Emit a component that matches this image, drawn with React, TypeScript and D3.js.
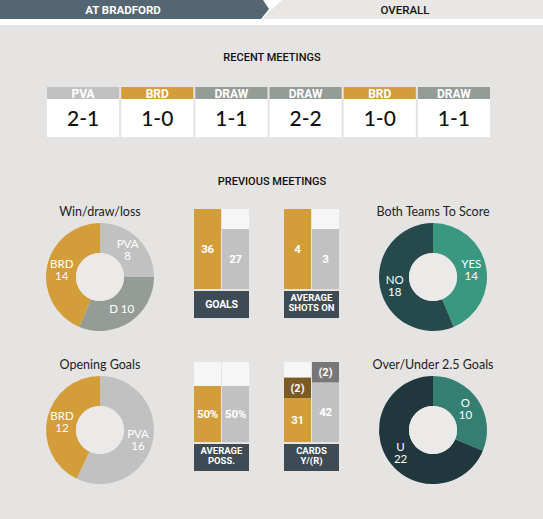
import React from "react";
import * as d3 from "d3";

// ---------- data ----------
const tabLabels = ["AT BRADFORD", "OVERALL"];
const recentWinners = ["PVA", "BRD", "DRAW", "DRAW", "BRD", "DRAW"];
const recentScores = ["2-1", "1-0", "1-1", "2-2", "1-0", "1-1"];

const wdlLabels = ["PVA", "D", "BRD"];
const wdlValues = [8, 10, 14];
const bttsLabels = ["YES", "NO"];
const bttsValues = [14, 18];
const openingLabels = ["PVA", "BRD"];
const openingValues = [16, 12];
const ouLabels = ["O", "U"];
const ouValues = [10, 22];

const goalsValues = [36, 27];
const shotsValues = [4, 3];
const possValues = [50, 50];
const possScaleMax = 71.4;
const cardsYellow = [31, 42];
const cardsRed = [2, 2];

// ---------- styles ----------
const BG = "#e5e4e2";
const ORANGE = "#d39e3a";
const GREY = "#c1c1c1";
const DRAWC = "#959c98";
const LABELBOX = "#3e4b54";
const EMPTY = "#f6f6f6";
const FONT = "Lato, 'Open Sans', sans-serif";
const FONT2 = "Roboto, 'Liberation Sans', sans-serif";
const winnerColor: Record<string, string> = { PVA: GREY, BRD: ORANGE, DRAW: DRAWC };

type DonutProps = {
  cx: number; cy: number; title: string; labels: string[]; values: number[]; colors: string[];
};

function Donut({ cx, cy, title, labels, values, colors }: DonutProps) {
  const outer = 54, inner = 24;
  const pie = d3.pie<number>().sort(null).value((d) => d)(values);
  const arc = d3.arc<d3.PieArcDatum<number>>().innerRadius(inner).outerRadius(outer);
  return (
    <g transform={`translate(${cx},${cy})`}>
      <text x={0} y={-61} textAnchor="middle" fontSize={12.5} fill="#222" fontFamily={FONT}>{title}</text>
      {pie.map((p, i) => (
        <path key={i} d={arc(p) || ""} fill={colors[i]} />
      ))}
      <circle r={inner} fill="#ebeae8" />
      {pie.map((p, i) => {
        const [x, y] = arc.centroid(p);
        const single = labels[i] === "D";
        return single ? (
          <text key={"l" + i} x={x} y={y + 4} textAnchor="middle" fontSize={11.5} fill="#fff" fontFamily={FONT}>
            {labels[i]} {values[i]}
          </text>
        ) : (
          <g key={"l" + i}>
            <text x={x} y={y - 1} textAnchor="middle" fontSize={11.5} fill="#fff" fontFamily={FONT}>{labels[i]}</text>
            <text x={x} y={y + 11} textAnchor="middle" fontSize={11.5} fill="#fff" fontFamily={FONT}>{values[i]}</text>
          </g>
        );
      })}
    </g>
  );
}

type BarsProps = {
  x: number; top: number; values: number[]; max: number; label: string[];
  red?: number[]; suffix?: string;
};

function Bars({ x, top, values, max, label, red, suffix }: BarsProps) {
  const H = 80, W = 27;
  const bottom = top + H;
  const redH = 20.5;
  const rangeH = red ? H - redH : H;
  const y = d3.scaleLinear().domain([0, max]).range([bottom, bottom - rangeH]);
  const colors = [ORANGE, GREY];
  const redColors = ["#7b5b22", "#777777"];
  const cx = x + W + 0.5;
  return (
    <g>
      {values.map((v, i) => {
        const bx = x + i * (W + 1);
        const yy = y(v);
        const ry = red ? yy - redH : yy;
        return (
          <g key={i}>
            <rect x={bx} y={top} width={W} height={H} fill={EMPTY} />
            <rect x={bx} y={yy} width={W} height={bottom - yy} fill={colors[i]} />
            <text x={bx + W / 2} y={(yy + bottom) / 2 + 4} textAnchor="middle" fontSize={11.5} fontWeight={700} fill="#fff" fontFamily={FONT2} letterSpacing={-0.3}>
              {`${v}${suffix || ""}`}
            </text>
            {red && (
              <g>
                <rect x={bx} y={ry} width={W} height={redH} fill={redColors[i]} />
                <text x={bx + W / 2} y={ry + redH / 2 + 4} textAnchor="middle" fontSize={11} fontWeight={700} fill="#fff" fontFamily={FONT2}>
                  ({red[i]})
                </text>
              </g>
            )}
          </g>
        );
      })}
      <rect x={x} y={bottom + 2} width={2 * W + 1} height={27} fill={LABELBOX} />
      {label.length === 1 ? (
        <text x={cx} y={bottom + 18.5} textAnchor="middle" fontSize={10.5} fontWeight={700} fill="#fff" fontFamily={FONT2} letterSpacing={-0.2}>{label[0]}</text>
      ) : (
        <g>
          <text x={cx} y={bottom + 12.2} textAnchor="middle" fontSize={9.5} fontWeight={700} fill="#fff" fontFamily={FONT2}>{label[0]}</text>
          <text x={cx} y={bottom + 22.4} textAnchor="middle" fontSize={9.5} fontWeight={700} fill="#fff" fontFamily={FONT2}>{label[1]}</text>
        </g>
      )}
    </g>
  );
}

export default function App() {
  const width = 543, height = 519;
  const boxX = d3.scaleBand<number>().domain(d3.range(recentScores.length)).range([47, 490]).paddingInner(0.028);
  return (
    <svg width={width} height={height} style={{ position: "absolute", left: 0, top: 0, display: "block" }}>
      <rect x={0} y={0} width={width} height={height} fill={BG} />
      {/* top tabs */}
      <rect x={0} y={0} width={width} height={25} fill="#ffffff" />
      <polygon points="282,0 543,0 543,19 262,19" fill="#e8e7e5" />
      <polygon points="0,0 263,0 269,9 261,19 0,19" fill="#546673" />
      <text x={123} y={14} textAnchor="middle" fontSize={11.5} fontWeight={700} fill="#fff" fontFamily={FONT2}>{tabLabels[0]}</text>
      <text x={405} y={14} textAnchor="middle" fontSize={11.5} fontWeight={500} fill="#111" fontFamily={FONT2}>{tabLabels[1]}</text>

      <text x={272} y={61} textAnchor="middle" fontSize={11} fontWeight={500} fill="#111" fontFamily={FONT2}>RECENT MEETINGS</text>
      {recentScores.map((s, i) => {
        const bx = boxX(i)!;
        const bw = boxX.bandwidth();
        return (
          <g key={i}>
            <rect x={bx} y={87} width={bw} height={12} fill={winnerColor[recentWinners[i]]} />
            <text x={bx + bw / 2} y={97.5} textAnchor="middle" fontSize={12} fontWeight={700} fill="#fff" fontFamily={FONT2}>{recentWinners[i]}</text>
            <rect x={bx} y={99} width={bw} height={38} fill="#fff" />
            <text x={bx + bw / 2} y={126} textAnchor="middle" fontSize={21} fontWeight={500} fill="#111" fontFamily={FONT}>{s}</text>
          </g>
        );
      })}

      <text x={272} y={185} textAnchor="middle" fontSize={11} fontWeight={500} fill="#111" fontFamily={FONT2}>PREVIOUS MEETINGS</text>

      <Donut cx={100} cy={277} title="Win/draw/loss" labels={wdlLabels} values={wdlValues} colors={[GREY, DRAWC, ORANGE]} />
      <Donut cx={433} cy={277} title="Both Teams To Score" labels={bttsLabels} values={bttsValues} colors={["#3a9880", "#264a4b"]} />
      <Donut cx={100} cy={430} title="Opening Goals" labels={openingLabels} values={openingValues} colors={[GREY, ORANGE]} />
      <Donut cx={433} cy={430} title="Over/Under 2.5 Goals" labels={ouLabels} values={ouValues} colors={["#357f72", "#1f373d"]} />

      <Bars x={194} top={209} values={goalsValues} max={d3.max(goalsValues)!} label={["GOALS"]} />
      <Bars x={284} top={209} values={shotsValues} max={d3.max(shotsValues)!} label={["AVERAGE", "SHOTS ON"]} />
      <Bars x={194} top={362} values={possValues} max={possScaleMax} label={["AVERAGE", "POSS."]} suffix="%" />
      <Bars x={284} top={362} values={cardsYellow} max={d3.max(cardsYellow)!} label={["CARDS", "Y/(R)"]} red={cardsRed} />
    </svg>
  );
}
